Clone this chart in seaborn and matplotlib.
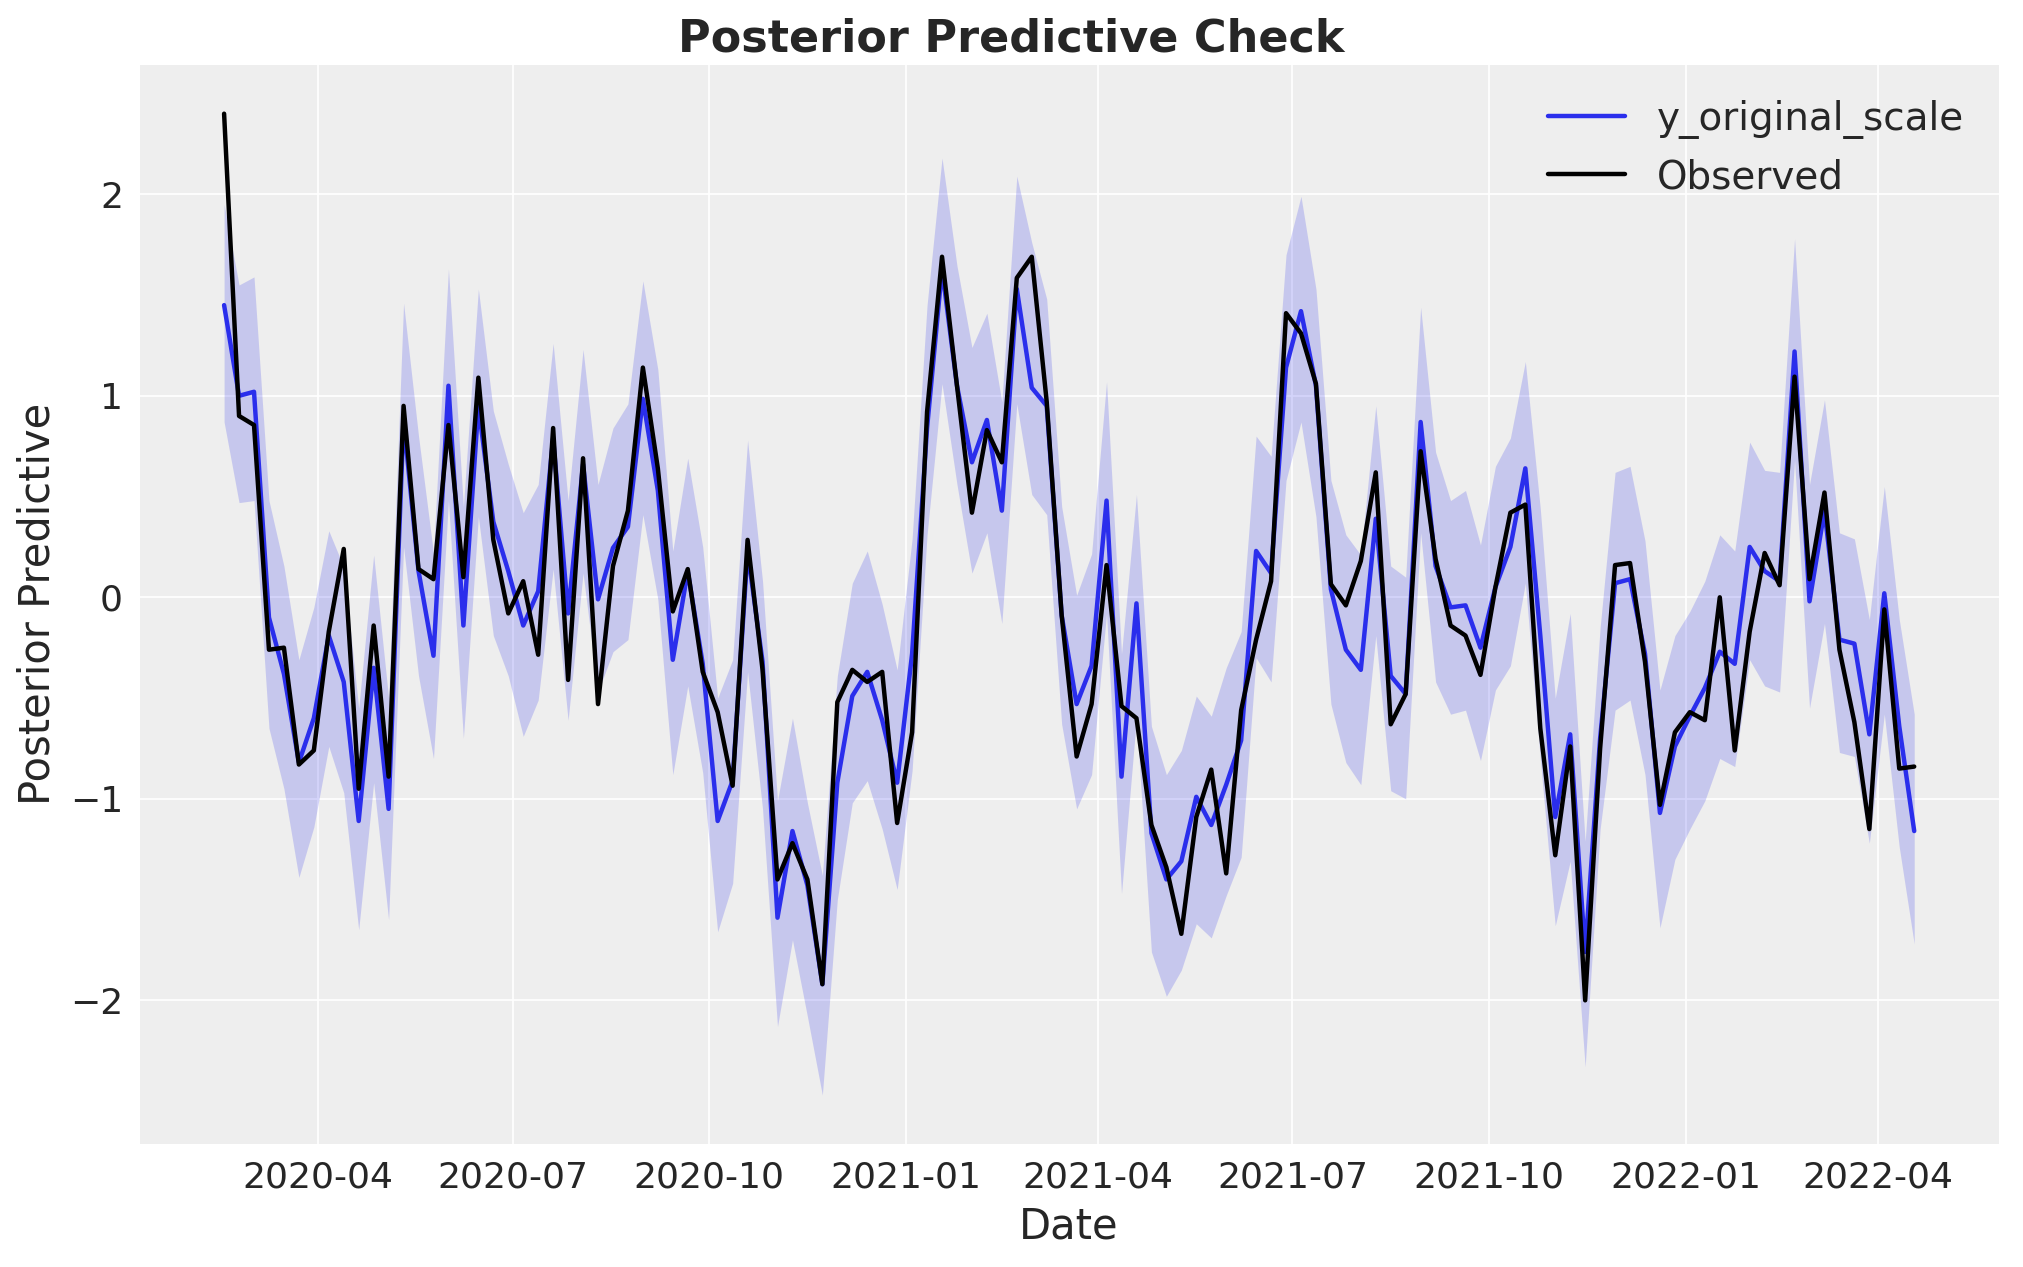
import numpy as np
import pandas as pd
import seaborn as sns
import matplotlib.pyplot as plt
import matplotlib.dates as mdates

# weekly dates (Monday) shown on the x axis
dates = pd.date_range("2020-02-17", periods=114, freq="W-MON")

observed = [
    2.40, 0.90, 0.855, -0.26, -0.25, -0.83, -0.76, -0.17, 0.24, -0.95,
    -0.14, -0.89, 0.95, 0.14, 0.09, 0.855, 0.10, 1.09, 0.285, -0.08,
    0.08, -0.285, 0.84, -0.41, 0.69, -0.53, 0.155, 0.43, 1.14, 0.64,
    -0.07, 0.14, -0.37, -0.57, -0.935, 0.285, -0.36, -1.40, -1.22, -1.40,
    -1.92, -0.52, -0.36, -0.42, -0.37, -1.12, -0.67, 0.92, 1.69, 1.05,
    0.42, 0.83, 0.67, 1.585, 1.69, 0.97, -0.09, -0.79, -0.53, 0.16,
    -0.54, -0.60, -1.13, -1.34, -1.67, -1.09, -0.855, -1.37, -0.56, -0.21,
    0.08, 1.41, 1.31, 1.06, 0.065, -0.04, 0.18, 0.62, -0.63, -0.48,
    0.725, 0.19, -0.14, -0.19, -0.385, 0.05, 0.42, 0.46, -0.65, -1.28,
    -0.74, -2.00, -0.75, 0.16, 0.17, -0.32, -1.03, -0.67, -0.57, -0.61,
    0.00, -0.76, -0.17, 0.22, 0.06, 1.095, 0.09, 0.52, -0.26, -0.62,
    -1.15, -0.06, -0.85, -0.84,
]

pp_mean = [
    1.45, 1.00, 1.02, -0.10, -0.38, -0.82, -0.60, -0.19, -0.42, -1.11,
    -0.35, -1.05, 0.88, 0.13, -0.29, 1.05, -0.14, 0.95, 0.375, 0.13,
    -0.14, 0.03, 0.79, -0.08, 0.66, -0.01, 0.245, 0.35, 0.985, 0.53,
    -0.31, 0.13, -0.33, -1.11, -0.91, 0.23, -0.32, -1.59, -1.16, -1.43,
    -1.92, -0.92, -0.49, -0.37, -0.61, -0.92, -0.28, 0.84, 1.63, 1.05,
    0.67, 0.88, 0.43, 1.53, 1.04, 0.95, -0.09, -0.53, -0.34, 0.48,
    -0.89, -0.03, -1.17, -1.40, -1.31, -0.99, -1.13, -0.93, -0.71, 0.23,
    0.12, 1.14, 1.42, 1.05, 0.04, -0.26, -0.36, 0.39, -0.39, -0.48,
    0.87, 0.155, -0.05, -0.04, -0.25, 0.05, 0.25, 0.64, -0.19, -1.09,
    -0.68, -1.76, -0.70, 0.07, 0.09, -0.28, -1.07, -0.74, -0.59, -0.45,
    -0.27, -0.33, 0.25, 0.13, 0.08, 1.22, -0.02, 0.43, -0.21, -0.23,
    -0.68, 0.02, -0.64, -1.16,
]

pp_high = [
    1.95, 1.55, 1.59, 0.48, 0.155, -0.31, -0.05, 0.33, 0.15, -0.55,
    0.21, -0.50, 1.46, 0.80, 0.22, 1.63, 0.45, 1.53, 0.925, 0.66,
    0.42, 0.56, 1.26, 0.48, 1.23, 0.56, 0.84, 0.96, 1.57, 1.13,
    0.23, 0.69, 0.25, -0.50, -0.31, 0.78, 0.08, -1.01, -0.60, -1.02,
    -1.38, -0.39, 0.07, 0.23, -0.035, -0.36, 0.29, 1.45, 2.18, 1.645,
    1.24, 1.41, 0.97, 2.09, 1.76, 1.48, 0.45, 0.01, 0.215, 1.07,
    -0.28, 0.51, -0.64, -0.88, -0.76, -0.49, -0.59, -0.35, -0.17, 0.80,
    0.70, 1.70, 1.99, 1.53, 0.58, 0.31, 0.21, 0.95, 0.155, 0.10,
    1.44, 0.72, 0.48, 0.53, 0.26, 0.65, 0.79, 1.17, 0.44, -0.50,
    -0.08, -1.21, -0.15, 0.62, 0.65, 0.28, -0.46, -0.19, -0.07, 0.08,
    0.31, 0.23, 0.77, 0.63, 0.62, 1.78, 0.56, 0.98, 0.32, 0.29,
    -0.11, 0.55, -0.11, -0.58,
]

pp_low = [
    0.87, 0.47, 0.48, -0.65, -0.95, -1.39, -1.14, -0.74, -0.97, -1.65,
    -0.92, -1.60, 0.25, -0.39, -0.80, 0.48, -0.70, 0.40, -0.19, -0.39,
    -0.69, -0.51, 0.14, -0.61, 0.12, -0.47, -0.27, -0.21, 0.41, -0.01,
    -0.88, -0.44, -0.87, -1.66, -1.42, -0.37, -1.05, -2.13, -1.70, -2.08,
    -2.47, -1.50, -1.02, -0.91, -1.15, -1.45, -0.86, 0.31, 1.06, 0.56,
    0.12, 0.32, -0.13, 0.96, 0.51, 0.41, -0.63, -1.05, -0.88, -0.08,
    -1.47, -0.60, -1.76, -1.98, -1.85, -1.62, -1.69, -1.48, -1.29, -0.30,
    -0.42, 0.58, 0.87, 0.40, -0.53, -0.82, -0.93, -0.19, -0.96, -1.00,
    0.32, -0.42, -0.58, -0.56, -0.81, -0.46, -0.34, 0.07, -0.80, -1.63,
    -1.31, -2.33, -1.15, -0.56, -0.51, -0.88, -1.64, -1.30, -1.15, -1.01,
    -0.80, -0.84, -0.31, -0.44, -0.47, 0.68, -0.55, -0.13, -0.77, -0.79,
    -1.22, -0.58, -1.24, -1.72,
]

df = pd.DataFrame({
    "date": dates,
    "observed": observed,
    "mean": pp_mean,
    "low": pp_low,
    "high": pp_high,
})

# arviz-darkgrid look
sns.set_style("darkgrid", {
    "axes.facecolor": "#eeeeee",
    "grid.color": "white",
    "axes.edgecolor": "white",
    "text.color": ".15",
    "axes.labelcolor": ".15",
    "xtick.color": ".15",
    "ytick.color": ".15",
})
plt.rcParams["font.family"] = ["DejaVu Sans"]

blue = "#2a2eec"

fig, ax = plt.subplots(figsize=(10.115, 6.335), dpi=200)
fig.subplots_adjust(left=0.069, right=0.988, top=0.949, bottom=0.097)

ax.fill_between(df["date"], df["low"], df["high"], color=blue, alpha=0.2, linewidth=0)
sns.lineplot(data=df, x="date", y="mean", color=blue, linewidth=1.6, label="y_original_scale", ax=ax)
sns.lineplot(data=df, x="date", y="observed", color="black", linewidth=1.6, label="Observed", ax=ax)

ax.xaxis.set_major_locator(mdates.MonthLocator(bymonth=[1, 4, 7, 10]))
ax.xaxis.set_major_formatter(mdates.DateFormatter("%Y-%m"))
ax.grid(True, color="white", linewidth=0.6)
for s in ax.spines.values():
    s.set_visible(False)

ax.tick_params(axis="both", labelsize=13, length=0, pad=6)
fig.suptitle("Posterior Predictive Check", fontsize=16, fontweight="bold", y=0.969, va="center")
ax.set_xlabel("Date", fontsize=15)
ax.set_ylabel("Posterior Predictive", fontsize=15)
ax.legend(loc="upper right", frameon=False, fontsize=14)

fig.savefig("out.png", dpi=200)
